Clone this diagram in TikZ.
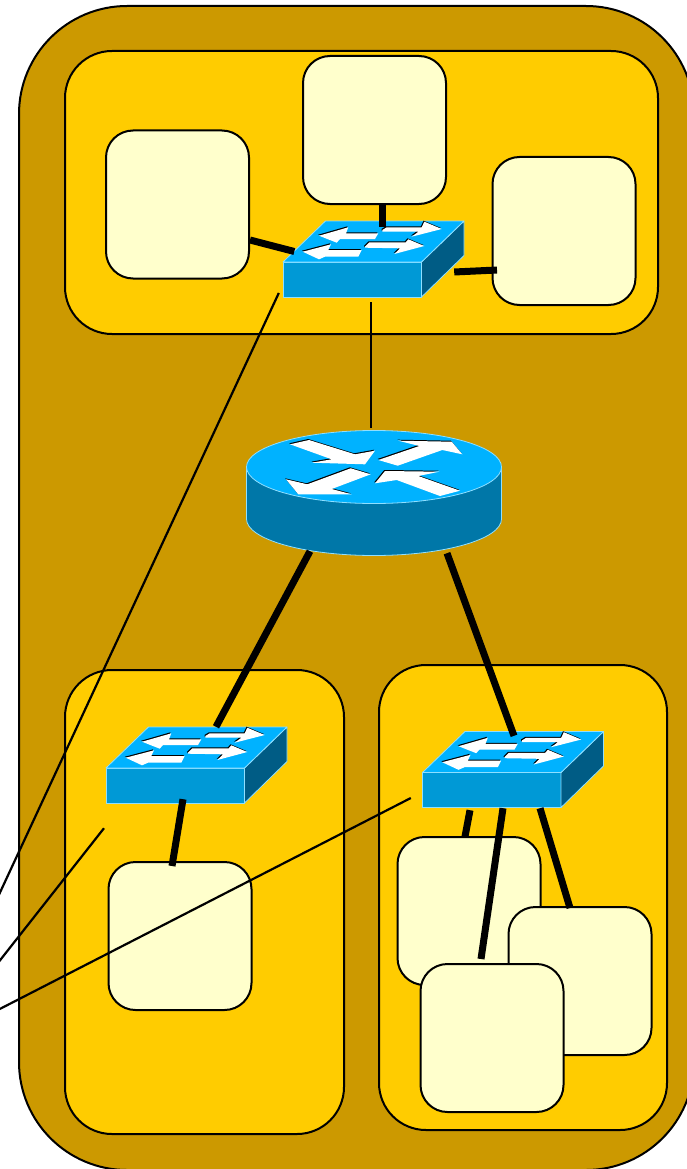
\documentclass[tikz,border=0pt]{standalone}
\definecolor{sitebg}{HTML}{CC9900}
\definecolor{zonebg}{HTML}{FFCC00}
\definecolor{hostbg}{HTML}{FFFFCC}
\definecolor{devtop}{HTML}{00B2FF}
\definecolor{devfront}{HTML}{0099D6}
\definecolor{devside}{HTML}{005C85}
\definecolor{devbody}{HTML}{0077A8}
\definecolor{devedge}{HTML}{8FDFFF}
\tikzstyle{site}=[draw, line width=2pt, fill=sitebg, rounded corners=108pt, minimum width=675pt, minimum height=1164pt, inner sep=0pt]
\tikzstyle{zone}=[draw, line width=2pt, fill=zonebg, rounded corners=47pt, inner sep=0pt]
\tikzstyle{host}=[draw, line width=2pt, fill=hostbg, rounded corners=27pt, minimum width=143pt, minimum height=148pt, inner sep=0pt]
\tikzstyle{link}=[line width=7pt]
\tikzstyle{wire}=[line width=2.2pt]
\tikzstyle{face}=[draw=devedge, line width=0.8pt, line join=round]
\tikzset{
  whitearrow/.pic={
    \fill[black, shift={(-0.8,-1)}] \arrowpath;
    \fill[white] \arrowpath;
  },
  pics/switchbox/.style={code={
    \node[minimum width=181pt, minimum height=76pt, inner sep=0pt] (-box) at (90,-3) {};
    \draw[face, fill=devfront] (0,0) rectangle (138.5,35);
    \draw[face, fill=devside] (138.5,0) -- (181,-41) -- (181,-6.5) -- (138.5,35) -- cycle;
    \draw[face, fill=devtop] (0,0) -- (42.5,-41) -- (181,-41) -- (138.5,0) -- cycle;
    \foreach \arrowpath in {
      {(36,-26.3) -- (65.3,-34.7) -- (63,-28.7) -- (95.3,-28.7) -- (92,-23) -- (57,-23) -- (53.7,-19.3) -- cycle},
      {(99.3,-32) -- (103.7,-34.7) -- (138.7,-34.7) -- (141.3,-40.3) -- (158.7,-33) -- (128.7,-25.3) -- (135.3,-30.3) -- (99.3,-30.3) -- cycle},
      {(19.7,-10.3) -- (48,-17.7) -- (45.3,-12) -- (78.7,-12) -- (75.3,-5.3) -- (42,-5.3) -- (36,-2.7) -- cycle},
      {(82,-15.3) -- (86.3,-19.7) -- (122.7,-19.7) -- (125.3,-22.7) -- (141.3,-16) -- (111.3,-8) -- (117,-13.7) -- (82,-14.3) -- cycle}}
      {\pic {whitearrow};}
  }},
  pics/routerdisc/.style={code={
    \node[minimum width=255pt, minimum height=126pt, inner sep=0pt] (-box) at (0,26) {};
    \draw[face, fill=devbody] (-127.5,0) -- (-127.5,52) arc[start angle=180, end angle=360, x radius=127.5, y radius=-36.5] -- (127.5,0) -- cycle;
    \draw[face, fill=devtop] (0,0) ellipse[x radius=127.5, y radius=36.5];
    \foreach \arrowpath in {
      {(-84,-22.7) -- (-65,-27) -- (-19,-12.7) -- (1,-16.3) -- (-9,-2.7) -- (-62.3,-4.3) -- (-42.3,-7.7) -- cycle},
      {(4.3,-7) -- (45.3,-21) -- (24.3,-26.3) -- (77.7,-25.3) -- (88.3,-12.7) -- (68.3,-17) -- (23.7,-1.3) -- cycle},
      {(-88,12.3) -- (-66.7,17.3) -- (-23.3,1.3) -- (-3.3,7.3) -- (-42.3,22) -- (-22.3,27.3) -- (-75.7,27.3) -- cycle},
      {(1,16.3) -- (11,4) -- (65.3,4.7) -- (44.3,9) -- (86,23.7) -- (66,29) -- (22.7,13) -- cycle}}
      {\pic {whitearrow};}
  }}
}
\begin{document}
\begin{tikzpicture}[x=1pt, y=-1pt]
  \useasboundingbox (0,0) rectangle (687,1169);
  \node[site] (site) at (356.5,588) {};
  \node[zone, minimum width=593pt, minimum height=283pt] (zoneA) at (361.5,192.5) {};
  \node[zone, minimum width=279pt, minimum height=464pt] (zoneB) at (204.5,902) {};
  \node[zone, minimum width=288pt, minimum height=465pt] (zoneC) at (523,897.5) {};

  \node[host] (hostA) at (177.5,204.5) {};
  \node[host] (hostB) at (374.5,130) {};
  \node[host] (hostC) at (564,231) {};
  \node[host] (hostD) at (180,936) {};
  \node[host] (hostE) at (469,911) {};
  \node[host] (hostF) at (580,981) {};
  \node[host] (hostG) at (492,1038) {};

  \pic (swA) at (283,262) {switchbox};
  \pic (swB) at (106,768) {switchbox};
  \pic (swC) at (422.5,772.5) {switchbox};
  \pic (gw) at (374,467) {routerdisc};
  \coordinate (outA) at (-10,914);
  \coordinate (outB) at (-10,973);
  \coordinate (outC) at (-10,1014);

  \draw[link] ([shift={(0,35.5)}]hostA.east) -- ([shift={(12,-7.5)}]swA-box.west);
  \draw[link] ([shift={(7.5,0)}]hostB.south) -- ([shift={(9,6)}]swA-box.north);
  \draw[link] ([shift={(-9.5,13)}]swA-box.east) -- ([shift={(5.5,39)}]hostC.west);
  \draw[wire] ([shift={(-2,5)}]swA-box.south) -- ([shift={(-3,-2)}]gw-box.north);
  \draw[link] ([shift={(-64,-5)}]gw-box.south) -- ([shift={(20,0)}]swB-box.north);
  \draw[link] ([shift={(73,-3)}]gw-box.south) -- ([shift={(1.5,4.5)}]swC-box.north);
  \draw[link] ([shift={(-13,-4)}]swB-box.south) -- ([shift={(-8,5)}]hostD.north);
  \draw[link] ([shift={(-42.5,2.5)}]swC-box.south) -- ([shift={(-4,0.5)}]hostE.north);
  \draw[link] ([shift={(-9.5,0.5)}]swC-box.south) -- ([shift={(-11,-4)}]hostG.north);
  \draw[link] ([shift={(27.5,0.5)}]swC-box.south) -- ([shift={(-10,2)}]hostF.north);
  \draw[wire] ([shift={(-3.5,34)}]swA-box.west) -- (outA);
  \draw[wire] ([shift={(-92,25)}]swB-box.south) -- (outB);
  \draw[wire] ([shift={(-11,28.5)}]swC-box.west) -- (outC);
\end{tikzpicture}
\end{document}
